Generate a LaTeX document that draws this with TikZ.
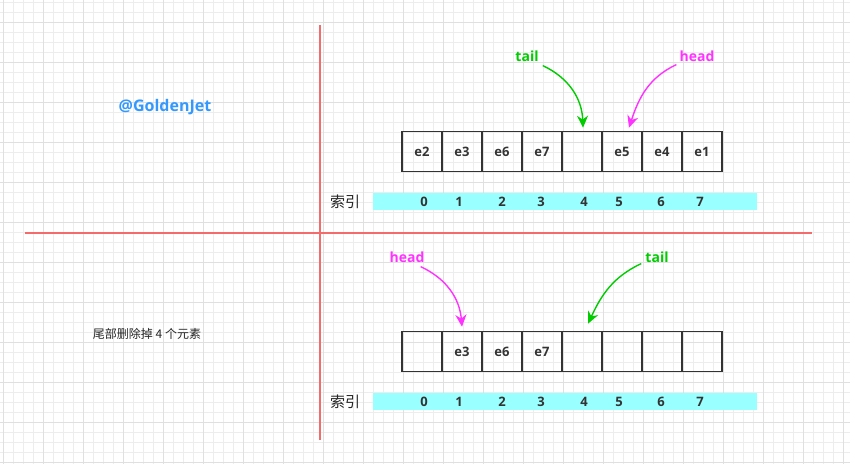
\documentclass[tikz,border=0pt]{standalone}
\usepackage{fontspec}
\setmainfont{Open Sans}
\newfontfamily\cjk{Noto Sans CJK SC}
\usetikzlibrary{arrows.meta,calc}

\definecolor{tailgreen}{HTML}{00CC00}
\definecolor{headpink}{HTML}{FF33FF}
\definecolor{idxbar}{HTML}{99FFFF}
\definecolor{axisred}{HTML}{F46B6B}
\definecolor{signblue}{HTML}{3399FF}

\tikzset{
  cell/.style={draw=black!80, line width=1.6pt, minimum width=40pt, minimum height=40pt,
    inner sep=0pt, font=\bfseries\fontsize{13}{13}\selectfont, text=black!80},
  idxnum/.style={font=\bfseries\fontsize{13}{13}\selectfont, text=black!80, inner sep=0pt},
  idxbox/.style={fill=idxbar, minimum width=384pt, minimum height=17pt, inner sep=0pt},
  ptrlabel/.style={font=\bfseries\fontsize{14}{14}\selectfont, inner sep=1pt},
  ptr/.style={line width=1.4pt, -{Stealth[length=12pt,width=11pt]}},
}

\begin{document}
\begin{tikzpicture}[x=1pt,y=1pt]
\useasboundingbox (0,0) rectangle (850,-463);
\clip (0,0) rectangle (850,-463);
\fill[white] (0,0) rectangle (850,-463);
% grid
\draw[black!7, line width=0.5pt, shift={(3pt,-2pt)}, step=10pt] (-10,10) grid (860,-470);
\draw[black!12, line width=0.7pt, shift={(3pt,-22pt)}, step=40pt] (-40,40) grid (880,-480);
% axes
\draw[axisred, line width=1.4pt] (320,-25) -- (320,-440);
\draw[axisred, line width=1.4pt] (25,-233) -- (812,-233);

\node[font=\bfseries\fontsize{16}{16}\selectfont, text=signblue] (sign) at (165,-107) {@GoldenJet};
\node[font=\cjk\fontsize{12}{12}\selectfont, text=black!85] (note) at (147,-334) {尾部删除掉 4 个元素};

% top array
\foreach \v [count=\i from 0] in {e2,e3,e6,e7,{},e5,e4,e1}
  \node[cell] (t\i) at (422+40*\i,-151.5) {\v};
\node[idxbox] (tbar) at (565,-201.5) {};
\node[font=\cjk\fontsize{15}{15}\selectfont, text=black!85] (tidx) at (345,-202) {索引};
\foreach \x [count=\i from 0] in {424,459,502,541,584,619,661,700}
  \node[idxnum] (tn\i) at (\x,-202) {\i};

\node[ptrlabel, text=tailgreen] (ttail) at (527,-56) {tail};
\node[ptrlabel, text=headpink] (thead) at (697,-56) {head};
\draw[ptr, tailgreen] ($(ttail.south east)+(3,-3)$) to[out=-25, in=92] ($(t4.north)+(1,3)$);
\draw[ptr, headpink] ($(thead.south west)+(-2,-2)$) to[out=205, in=72] ($(t5.north)+(7,3)$);

% bottom array
\foreach \v [count=\i from 0] in {{},e3,e6,e7,{},{},{},{}}
  \node[cell] (b\i) at (422+40*\i,-351.5) {\v};
\node[idxbox] (bbar) at (565,-401.5) {};
\node[font=\cjk\fontsize{15}{15}\selectfont, text=black!85] (bidx) at (345,-402) {索引};
\foreach \x [count=\i from 0] in {424,459,502,541,584,619,661,700}
  \node[idxnum] (bn\i) at (\x,-402) {\i};

\node[ptrlabel, text=headpink] (bhead) at (407,-257) {head};
\node[ptrlabel, text=tailgreen] (btail) at (657,-257) {tail};
\draw[ptr, headpink] ($(bhead.south east)+(-5,-3)$) to[out=-25, in=95] ($(b1.north)+(0,4)$);
\draw[ptr, tailgreen] ($(btail.south west)+(-3,0)$) to[out=205, in=65] ($(b4.north)+(6,7)$);
\end{tikzpicture}
\end{document}
